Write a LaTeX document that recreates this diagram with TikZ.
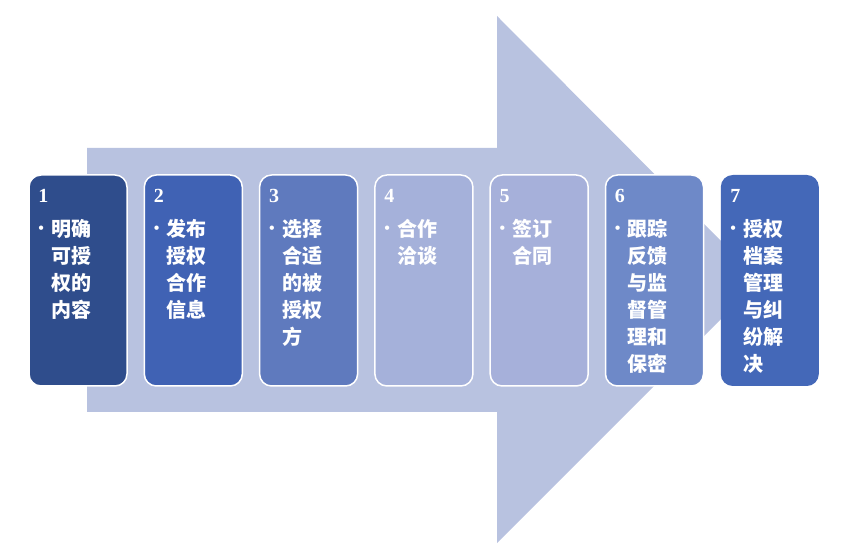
\documentclass[tikz,border=0pt]{standalone}
\usepackage{fontspec}
\setmainfont{Liberation Serif}
\newfontfamily\cjk{Noto Sans CJK SC}
\usetikzlibrary{positioning}

\definecolor{arrowfill}{RGB}{184,194,224}
\definecolor{stageA}{RGB}{47,77,140}
\definecolor{stageB}{RGB}{64,98,180}
\definecolor{stageC}{RGB}{95,122,190}
\definecolor{stageD}{RGB}{165,177,218}
\definecolor{stageE}{RGB}{166,176,218}
\definecolor{stageF}{RGB}{110,137,200}
\definecolor{stageG}{RGB}{68,104,184}

\newcommand{\blt}{\makebox[13pt][l]{\raisebox{3.5pt}{\rmfamily\fontsize{16}{16}\selectfont\textbullet}}}
\newcommand{\indt}{\hspace*{13pt}}
\newcommand{\stagenum}[1]{{\rmfamily\bfseries\fontsize{20}{20}\selectfont #1}\\[7pt]}

\begin{document}
\begin{tikzpicture}[x=1pt, y=1pt,
  stagebox/.style={draw=white, line width=1.5pt, rounded corners=12pt,
    minimum width=98pt, minimum height=211pt, inner sep=0pt},
  stagetext/.style={align=left, text=white, inner sep=0pt,
    font=\fontsize{20}{27}\selectfont\cjk\bfseries}]
  \useasboundingbox (0,0) rectangle (846,557);
  % big arrow behind the stages
  \fill[arrowfill] (87,409) -- (497,409) -- (497,541) -- (760,277)
    -- (497,14) -- (497,145) -- (87,145) -- cycle;

  \node[stagebox, fill=stageA] (b1) at (78,276.5) {};
  \node[stagebox, fill=stageB] (b2) at (193.3,276.5) {};
  \node[stagebox, fill=stageC] (b3) at (308.6,276.5) {};
  \node[stagebox, fill=stageD] (b4) at (423.9,276.5) {};
  \node[stagebox, fill=stageE] (b5) at (539.2,276.5) {};
  \node[stagebox, fill=stageF] (b6) at (654.5,276.5) {};
  \node[stagebox, fill=stageG, draw=none] (b7) at (769.8,276.5) {};

  \node[stagetext, below right=15pt and 10pt of b1.north west] (t1)
    {\stagenum{1}\blt 明确\\ \indt 可授\\ \indt 权的\\ \indt 内容};
  \node[stagetext, below right=15pt and 10pt of b2.north west] (t2)
    {\stagenum{2}\blt 发布\\ \indt 授权\\ \indt 合作\\ \indt 信息};
  \node[stagetext, below right=15pt and 10pt of b3.north west] (t3)
    {\stagenum{3}\blt 选择\\ \indt 合适\\ \indt 的被\\ \indt 授权\\ \indt 方};
  \node[stagetext, below right=15pt and 10pt of b4.north west] (t4)
    {\stagenum{4}\blt 合作\\ \indt 洽谈};
  \node[stagetext, below right=15pt and 10pt of b5.north west] (t5)
    {\stagenum{5}\blt 签订\\ \indt 合同};
  \node[stagetext, below right=15pt and 10pt of b6.north west] (t6)
    {\stagenum{6}\blt 跟踪\\ \indt 反馈\\ \indt 与监\\ \indt 督管\\ \indt 理和\\ \indt 保密};
  \node[stagetext, below right=15pt and 10pt of b7.north west] (t7)
    {\stagenum{7}\blt 授权\\ \indt 档案\\ \indt 管理\\ \indt 与纠\\ \indt 纷解\\ \indt 决};
\end{tikzpicture}
\end{document}
